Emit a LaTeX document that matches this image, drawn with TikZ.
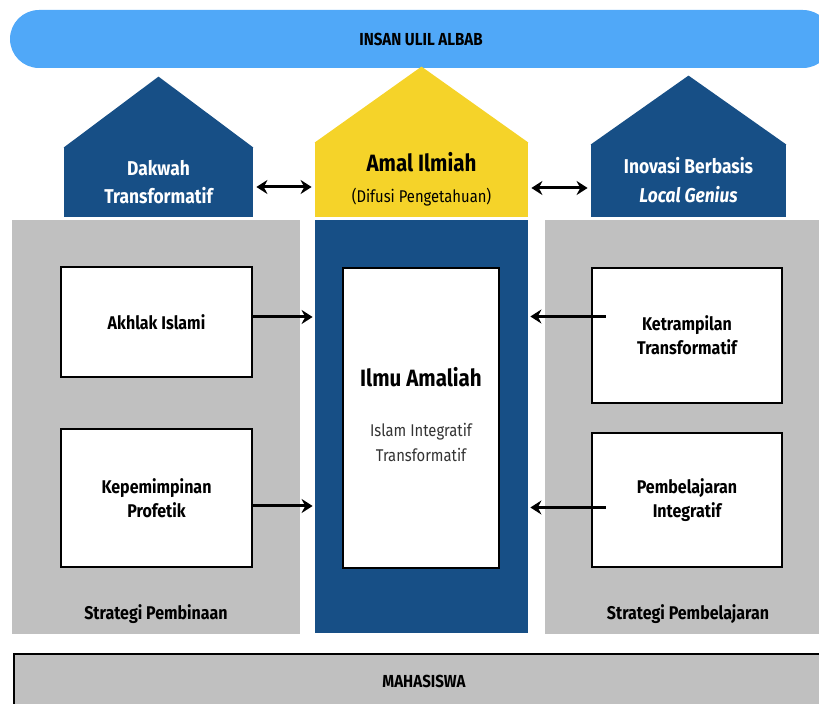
\documentclass[tikz,border=0pt]{standalone}
\usepackage{fontspec}
\setmainfont[FakeStretch=0.87]{Fira Sans}
\usetikzlibrary{arrows.meta,positioning}
\definecolor{langit}{HTML}{50A8F8}
\definecolor{biru}{HTML}{174F86}
\definecolor{kuning}{HTML}{F5D329}
\definecolor{abu}{HTML}{C0C0C0}
\begin{document}
\begin{tikzpicture}[x=0.5pt,y=-0.5pt,
  badan/.style={fill=biru,text=white,align=center,inner sep=0pt,font=\bfseries\fontsize{10}{14}\selectfont},
  panel/.style={fill=abu,inner sep=0pt},
  kotak/.style={draw,line width=1.3pt,fill=white,align=center,inner sep=0pt,font=\bfseries\fontsize{9.2}{12}\selectfont},
  lbl/.style={font=\bfseries\fontsize{9.2}{11}\selectfont},
  a/.style={-{Stealth[length=5.5pt,width=7pt,inset=1.8pt]},line width=1.5pt,shorten >=1pt},
  aa/.style={{Stealth[length=5.5pt,width=7pt,inset=1.8pt]}-{Stealth[length=5.5pt,width=7pt,inset=1.8pt]},line width=1.5pt,shorten >=1.5pt,shorten <=1.5pt}]
  \useasboundingbox (0,0) rectangle (819,704);
  % puncak
  \node[fill=langit,rounded corners=14.5pt,minimum width=411pt,minimum height=29pt,inner sep=0pt,font=\bfseries\fontsize{8.7}{10}\selectfont] (insan) at (421,39) {INSAN ULIL ALBAB};
  % tiga rumah
  \node[badan,minimum width=94.5pt,minimum height=35pt] (dakwah) at (158.5,182) {Dakwah\\Transformatif};
  \fill[biru] ([yshift=-0.5pt]dakwah.north west) -- ([yshift=35pt]dakwah.north) -- ([yshift=-0.5pt]dakwah.north east) -- cycle;
  \node[badan,fill=kuning,text=black,minimum width=106.5pt,minimum height=37.5pt,font=\bfseries\fontsize{11.8}{15.5}\selectfont] (amal) at (421.5,179.5) {Amal Ilmiah\\{\mdseries\fontsize{8.5}{10}\selectfont (Difusi Pengetahuan)}};
  \fill[kuning] ([yshift=-0.5pt]amal.north west) -- ([yshift=37.5pt]amal.north) -- ([yshift=-0.5pt]amal.north east) -- cycle;
  \node[badan,minimum width=97.5pt,minimum height=36.5pt,font=\bfseries\fontsize{10}{14.5}\selectfont] (inovasi) at (688.5,180.5) {Inovasi Berbasis\\\textit{Local Genius}};
  \fill[biru] ([yshift=-0.5pt]inovasi.north west) -- ([yshift=34pt]inovasi.north) -- ([yshift=-0.5pt]inovasi.north east) -- cycle;
  % tiang
  \node[panel,minimum width=144pt,minimum height=207pt] (bina) at (156,427) {};
  \node[panel,minimum width=142.5pt,minimum height=207pt] (ajar) at (687.5,427) {};
  \node[fill=biru,minimum width=106.5pt,minimum height=206.5pt,inner sep=0pt] (kolom) at (421.5,426.5) {};
  \node[lbl] (lblbina) at (156,614) {Strategi Pembinaan};
  \node[lbl] (lblajar) at (688,614) {Strategi Pembelajaran};
  % ilmu amaliah
  \node[draw,line width=0.6pt,fill=white,minimum width=78pt,minimum height=150pt,inner sep=0pt] (ilmu) at (421,418) {};
  \node[font=\bfseries\fontsize{11.8}{14}\selectfont] (judul) at (421,377) {Ilmu Amaliah};
  \node[align=center,text=black!80,font=\fontsize{8.5}{12.5}\selectfont] (sub) at (421,442.5) {Islam Integratif\\Transformatif};
  % kotak kiri dan kanan
  \node[kotak,minimum width=95.5pt,minimum height=55pt] (akhlak) at (156.5,322) {Akhlak Islami};
  \node[kotak,minimum width=95.5pt,minimum height=69pt] (pimpin) at (156.5,498) {Kepemimpinan\\Profetik};
  \node[kotak,minimum width=95pt,minimum height=67.5pt] (terampil) at (687,335.5) {Ketrampilan\\Transformatif};
  \node[kotak,minimum width=95pt,minimum height=67pt] (belajar) at (687,500) {Pembelajaran\\Integratif};
  % dasar
  \node[draw,line width=1pt,fill=abu,minimum width=410pt,minimum height=27pt,inner sep=0pt,anchor=north west,font=\bfseries\fontsize{8.7}{10}\selectfont] (mhs) at (13,653) {MAHASISWA};
  % panah
  \draw[a] ([yshift=2.5pt]akhlak.east) -- ([yshift=2.5pt]akhlak.east -| kolom.west);
  \draw[a] ([yshift=-4pt]pimpin.east) -- ([yshift=-4pt]pimpin.east -| kolom.west);
  \draw[a] ([xshift=7.5pt,yshift=9.5pt]terampil.west) -- ([yshift=9.5pt]terampil.west -| kolom.east);
  \draw[a] ([xshift=7.5pt,yshift=-3.75pt]belajar.west) -- ([yshift=-3.75pt]belajar.west -| kolom.east);
  \draw[aa] ([yshift=-2.5pt]dakwah.east) -- ([yshift=-2.5pt]dakwah.east -| amal.west);
  \draw[aa] ([yshift=-4.25pt]amal.east) -- ([yshift=-4.25pt]amal.east -| inovasi.west);
\end{tikzpicture}
\end{document}
